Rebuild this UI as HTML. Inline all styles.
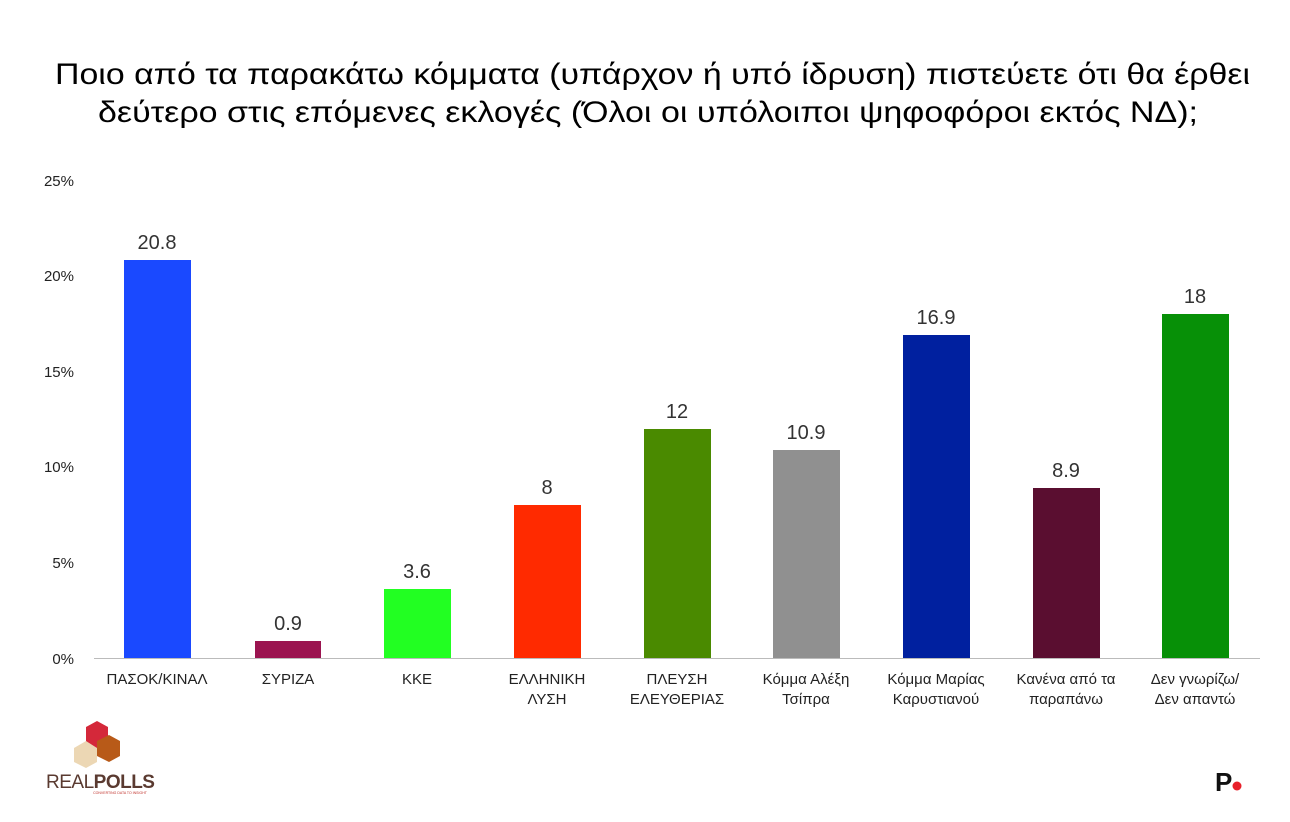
<!DOCTYPE html>
<html><head><meta charset="utf-8"><style>body{margin:0;background:#fff}svg{display:block}</style></head><body>
<svg width="1290" height="822" xmlns="http://www.w3.org/2000/svg" font-family="Liberation Sans, DejaVu Sans, sans-serif">
<text x="55" y="84" font-size="30" fill="#000" textLength="1195" lengthAdjust="spacingAndGlyphs">Ποιο από τα παρακάτω κόμματα (υπάρχον ή υπό ίδρυση) πιστεύετε ότι θα έρθει</text>
<text x="98" y="122" font-size="30" fill="#000" textLength="1100" lengthAdjust="spacingAndGlyphs">δεύτερο στις επόμενες εκλογές (Όλοι οι υπόλοιποι ψηφοφόροι εκτός ΝΔ);</text>
<g font-size="15" fill="#222" text-anchor="end">
<text x="74" y="186">25%</text><text x="74" y="281">20%</text><text x="74" y="377">15%</text>
<text x="74" y="472">10%</text><text x="74" y="568">5%</text><text x="74" y="664">0%</text>
</g>
<line x1="94" y1="658.5" x2="1260" y2="658.5" stroke="#bbb" stroke-width="1"/>
<g>
<rect x="124" y="260" width="67" height="398" fill="#1a49ff"/>
<rect x="255" y="641" width="66" height="17" fill="#9b1450"/>
<rect x="384" y="589" width="67" height="69" fill="#22ff22"/>
<rect x="514" y="505" width="67" height="153" fill="#ff2a00"/>
<rect x="644" y="429" width="67" height="229" fill="#4a8a00"/>
<rect x="773" y="450" width="67" height="208" fill="#909090"/>
<rect x="903" y="335" width="67" height="323" fill="#00209f"/>
<rect x="1033" y="488" width="67" height="170" fill="#5a0e30"/>
<rect x="1162" y="314" width="67" height="344" fill="#079007"/>
</g>
<g font-size="20" fill="#333" text-anchor="middle">
<text x="157" y="249">20.8</text><text x="288" y="630">0.9</text><text x="417" y="578">3.6</text>
<text x="547" y="494">8</text><text x="677" y="418">12</text><text x="806" y="439">10.9</text>
<text x="936" y="324">16.9</text><text x="1066" y="477">8.9</text><text x="1195" y="303">18</text>
</g>
<g font-size="15" fill="#222" text-anchor="middle">
<text x="157" y="684">ΠΑΣΟΚ/ΚΙΝΑΛ</text><text x="288" y="684">ΣΥΡΙΖΑ</text><text x="417" y="684">ΚΚΕ</text>
<text x="547" y="684">ΕΛΛΗΝΙΚΗ</text><text x="547" y="704">ΛΥΣΗ</text>
<text x="677" y="684">ΠΛΕΥΣΗ</text><text x="677" y="704">ΕΛΕΥΘΕΡΙΑΣ</text>
<text x="806" y="684">Κόμμα Αλέξη</text><text x="806" y="704">Τσίπρα</text>
<text x="936" y="684">Κόμμα Μαρίας</text><text x="936" y="704">Καρυστιανού</text>
<text x="1066" y="684">Κανένα από  τα</text><text x="1066" y="704">παραπάνω</text>
<text x="1195" y="684">Δεν γνωρίζω/</text><text x="1195" y="704">Δεν απαντώ</text>
</g>
<g>
<polygon points="86,727 97,721 108,727 108,745 97,751 86,745" fill="#d4283a"/>
<polygon points="74,748 86,741 97,748 97,762 86,768 74,762" fill="#ecd7b4"/>
<polygon points="97,741 109,735 120,741 120,756 109,762 97,756" fill="#b85a18"/>
<text x="46" y="788" font-size="19" fill="#5a3a30" letter-spacing="-0.5">REAL<tspan font-weight="bold">POLLS</tspan></text>
<text x="120" y="794" font-size="3.5" fill="#c0302a" text-anchor="middle">CONVERTING DATA TO INSIGHT</text>
</g>
<text x="1215" y="791" font-size="26" font-weight="bold" fill="#111">P</text>
<circle cx="1237" cy="786" r="4.5" fill="#e8202a"/>
</svg>
</body></html>
